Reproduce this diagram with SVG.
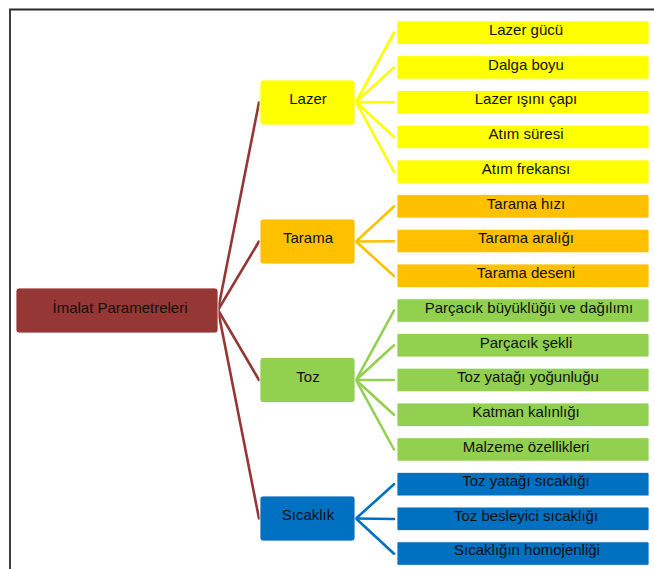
<svg xmlns="http://www.w3.org/2000/svg" width="654" height="569" viewBox="0 0 654 569">
<style>
text{font-family:"Liberation Sans",Arial,sans-serif;font-size:15px;fill:#111;text-anchor:middle}
.l1{stroke:#fff;stroke-width:0.8}
.l2{stroke:#fff;stroke-width:0.8}
.c{fill:none;stroke-width:2.6;stroke-linecap:round}
</style>
<rect x="0" y="0" width="654" height="569" fill="#fff"/>
<path d="M10,580 V9.5 H660" fill="none" stroke="#2b2b2b" stroke-width="1.8"/>
<g id="connectors">
<g class="c" stroke="#953735">
<path d="M218,310 L259,102.5"/>
<path d="M218,310 L259,241.5"/>
<path d="M218,310 L259,380"/>
<path d="M218,310 L259,518.5"/>
</g>
<g class="c" stroke="#FFFF00">
<path d="M356,102 L394,32.75"/>
<path d="M356,102 L394,67.5"/>
<path d="M356,102 L394,102.2"/>
<path d="M356,102 L394,137"/>
<path d="M356,102 L394,171.7"/>
</g>
<g class="c" stroke="#FFC000">
<path d="M356,241.5 L394,206.5"/>
<path d="M356,241.5 L394,241.2"/>
<path d="M356,241.5 L394,276"/>
</g>
<g class="c" stroke="#92D050">
<path d="M356,380 L394,310.6"/>
<path d="M356,380 L394,345.3"/>
<path d="M356,380 L394,380"/>
<path d="M356,380 L394,414.8"/>
<path d="M356,380 L394,449.5"/>
</g>
<g class="c" stroke="#0070C0">
<path d="M356,518.5 L394,484.2"/>
<path d="M356,518.5 L394,519"/>
<path d="M356,518.5 L394,553.7"/>
</g>
</g>
<g id="root"><rect x="16" y="288" width="202" height="45" rx="3" fill="#953735" class="l1"/><text x="120" y="312.5">İmalat Parametreleri</text></g>
<g id="lazer"><rect x="260" y="80" width="95" height="45" rx="3" fill="#FFFF00" class="l1"/><text x="308" y="104">Lazer</text></g>
<g id="tarama"><rect x="260" y="219" width="95" height="45" rx="3" fill="#FFC000" class="l1"/><text x="308" y="242.5">Tarama</text></g>
<g id="toz"><rect x="260" y="357.5" width="95" height="45" rx="3" fill="#92D050" class="l1"/><text x="308" y="381.5">Toz</text></g>
<g id="sicaklik"><rect x="260" y="496" width="95" height="45" rx="3" fill="#0070C0" class="l1"/><text x="308" y="520">Sıcaklık</text></g>
<g id="lazer-gucu"><rect x="397" y="21" width="252" height="23.5" rx="1.5" fill="#FFFF00" class="l2"/><text x="526" y="35">Lazer gücü</text></g>
<g id="dalga-boyu"><rect x="397" y="55.7" width="252" height="23.5" rx="1.5" fill="#FFFF00" class="l2"/><text x="526" y="69.7">Dalga boyu</text></g>
<g id="lazer-isini-capi"><rect x="397" y="90.4" width="252" height="23.5" rx="1.5" fill="#FFFF00" class="l2"/><text x="526" y="104.4">Lazer ışını çapı</text></g>
<g id="atim-suresi"><rect x="397" y="125.2" width="252" height="23.5" rx="1.5" fill="#FFFF00" class="l2"/><text x="526" y="139.2">Atım süresi</text></g>
<g id="atim-frekansi"><rect x="397" y="159.9" width="252" height="23.5" rx="1.5" fill="#FFFF00" class="l2"/><text x="526" y="173.9">Atım frekansı</text></g>
<g id="tarama-hizi"><rect x="397" y="194.6" width="252" height="23.5" rx="1.5" fill="#FFC000" class="l2"/><text x="526" y="208.6">Tarama hızı</text></g>
<g id="tarama-araligi"><rect x="397" y="229.3" width="252" height="23.5" rx="1.5" fill="#FFC000" class="l2"/><text x="526" y="243.3">Tarama aralığı</text></g>
<g id="tarama-deseni"><rect x="397" y="264" width="252" height="23.5" rx="1.5" fill="#FFC000" class="l2"/><text x="526" y="278">Tarama deseni</text></g>
<g id="parcacik-buyuklugu"><rect x="397" y="298.8" width="252" height="23.5" rx="1.5" fill="#92D050" class="l2"/><text x="529" y="312.8">Parçacık büyüklüğü ve dağılımı</text></g>
<g id="parcacik-sekli"><rect x="397" y="333.5" width="252" height="23.5" rx="1.5" fill="#92D050" class="l2"/><text x="526" y="347.5">Parçacık şekli</text></g>
<g id="toz-yatagi-yogunlugu"><rect x="397" y="368.2" width="252" height="23.5" rx="1.5" fill="#92D050" class="l2"/><text x="528" y="382.2">Toz yatağı yoğunluğu</text></g>
<g id="katman-kalinligi"><rect x="397" y="403" width="252" height="23.5" rx="1.5" fill="#92D050" class="l2"/><text x="526" y="417">Katman kalınlığı</text></g>
<g id="malzeme-ozellikleri"><rect x="397" y="437.7" width="252" height="23.5" rx="1.5" fill="#92D050" class="l2"/><text x="526" y="451.7">Malzeme özellikleri</text></g>
<g id="toz-yatagi-sicakligi"><rect x="397" y="472.4" width="252" height="23.5" rx="1.5" fill="#0070C0" class="l2"/><text x="526" y="486.4">Toz yatağı sıcaklığı</text></g>
<g id="toz-besleyici-sicakligi"><rect x="397" y="507.1" width="252" height="23.5" rx="1.5" fill="#0070C0" class="l2"/><text x="526" y="521.1">Toz besleyici sıcaklığı</text></g>
<g id="sicakligin-homojenligi"><rect x="397" y="541.8" width="252" height="23.5" rx="1.5" fill="#0070C0" class="l2"/><text x="527" y="555.3">Sıcaklığın homojenliği</text></g>
</svg>
